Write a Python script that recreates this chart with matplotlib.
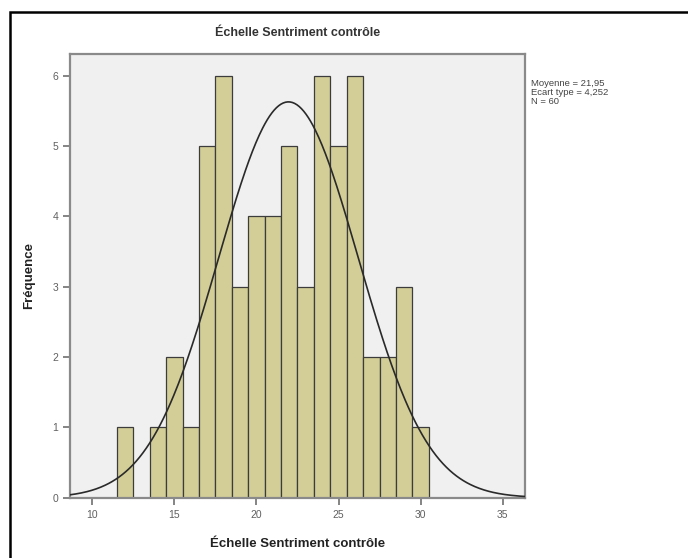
"""Histogramme SPSS : Échelle Sentriment contrôle."""

import numpy as np
import matplotlib.pyplot as plt
from matplotlib.patches import Rectangle

plt.rcParams['font.family'] = ['Liberation Sans', 'DejaVu Sans']

# effectifs par classe (largeur 1, centrées sur les entiers)
centres = [12, 13, 14, 15, 16, 17, 18, 19, 20, 21, 22, 23, 24, 25, 26, 27, 28, 29, 30]
effectifs = [1, 0, 1, 2, 1, 5, 6, 3, 4, 4, 5, 3, 6, 5, 6, 2, 2, 3, 1]
moyenne = 21.95
ecart_type = 4.252
n = 60
xticks = [10, 15, 20, 25, 30, 35]
yticks = [0, 1, 2, 3, 4, 5, 6]

fig = plt.figure(figsize=(6.88, 5.58), dpi=100)
ax = fig.add_axes([0.1017, 0.108, 0.6614, 0.7952])
ax.set_facecolor('#f0f0f0')

ax.bar(centres, effectifs, width=1.0, color='#d3ce97', edgecolor='#3c3c3c',
       linewidth=0.9, zorder=2)

xmin, xmax = 8.63, 36.37
xs = np.linspace(xmin, xmax, 400)
courbe = n * 1.0 / (ecart_type * np.sqrt(2 * np.pi)) * np.exp(-0.5 * ((xs - moyenne) / ecart_type) ** 2)
ax.plot(xs, courbe, color='#2a2a2a', linewidth=1.2, zorder=3)

ax.set_xlim(xmin, xmax)
ax.set_ylim(0, 6.31)
ax.set_xticks(xticks)
ax.set_yticks(yticks)
ax.tick_params(colors='#707070', labelsize=7.5, length=5, width=1.2,
               labelcolor='#606060')
for s in ax.spines.values():
    s.set_color('#8a8a8a')
    s.set_linewidth(1.6)

ax.set_title('Échelle Sentriment contrôle', fontsize=9, fontweight='bold',
             color='#333333', y=1.022)
ax.set_xlabel('Échelle Sentriment contrôle', fontsize=9.5, fontweight='bold', color='#222222')
ax.set_ylabel('Fréquence', fontsize=9.5, fontweight='bold', color='#222222')
ax.xaxis.set_label_coords(0.5, -0.091)
ax.yaxis.set_label_coords(-0.077, 0.5)

ax.text(1.013, 0.943, 'Moyenne = 21,95\nEcart type = 4,252\nN = 60',
        transform=ax.transAxes, fontsize=6.8, color='#444444', va='top', ha='left',
        linespacing=0.98)

# cadre noir autour du graphique
fig.patches.append(Rectangle((10 / 688, -0.05), 1.2, 1 - 12 / 558 + 0.05,
                             transform=fig.transFigure, fill=False,
                             edgecolor='black', linewidth=1.8))

fig.savefig('out.png', dpi=100)
